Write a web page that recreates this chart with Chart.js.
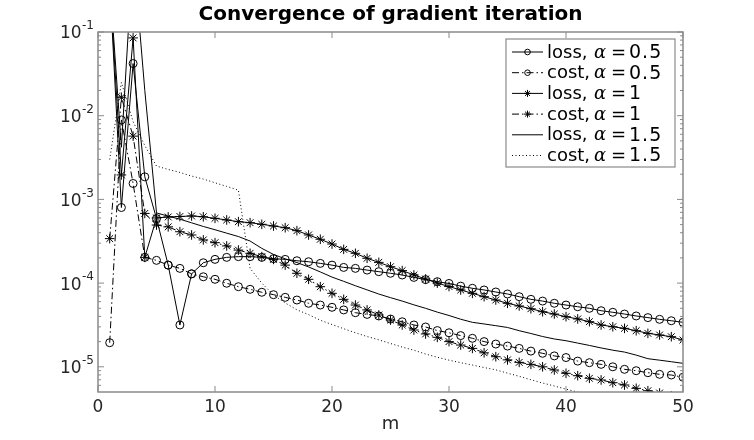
<!DOCTYPE html>
<html lang="en">
<head>
<meta charset="UTF-8" />
<title>Convergence of gradient iteration</title>
<script src="https://cdn.jsdelivr.net/npm/chart.js@4.4.1/dist/chart.umd.min.js"></script>
<style>
  html, body { margin: 0; padding: 0; background: #fff; }
  #wrap { width: 754px; height: 440px; }
</style>
</head>
<body>
<div id="wrap"><canvas id="chartConv" width="754" height="440"></canvas></div>
<script>
  // iteration index
  const iterations = [1, 2, 3, 4, 5, 6, 7, 8, 9, 10, 11, 12, 13, 14, 15, 16, 17, 18, 19, 20,
    21, 22, 23, 24, 25, 26, 27, 28, 29, 30, 31, 32, 33, 34, 35, 36, 37, 38, 39, 40,
    41, 42, 43, 44, 45, 46, 47, 48, 49, 50];

  const lossA05 = [0.4, 8.0e-4, 4.2e-2, 1.86e-3, 5.9e-4, 1.64e-4, 3.16e-5, 1.29e-4, 1.75e-4, 1.92e-4,
    2.03e-4, 2.07e-4, 2.07e-4, 2.03e-4, 1.96e-4, 1.92e-4, 1.85e-4, 1.80e-4, 1.72e-4, 1.64e-4,
    1.54e-4, 1.50e-4, 1.43e-4, 1.37e-4, 1.31e-4, 1.25e-4, 1.17e-4, 1.10e-4, 1.04e-4, 9.9e-5,
    9.2e-5, 8.67e-5, 8.28e-5, 7.83e-5, 7.41e-5, 6.88e-5, 6.40e-5, 6.10e-5, 5.74e-5, 5.47e-5,
    5.22e-5, 5.00e-5, 4.68e-5, 4.48e-5, 4.27e-5, 4.05e-5, 3.87e-5, 3.69e-5, 3.55e-5, 3.40e-5];

  const costA05 = [1.94e-5, 8.9e-3, 1.55e-3, 2.03e-4, 1.87e-4, 1.64e-4, 1.5e-4, 1.29e-4, 1.19e-4, 1.11e-4,
    9.96e-5, 9.06e-5, 8.43e-5, 7.77e-5, 7.27e-5, 6.76e-5, 6.28e-5, 5.74e-5, 5.47e-5, 5.14e-5,
    4.78e-5, 4.43e-5, 4.23e-5, 4.05e-5, 3.72e-5, 3.45e-5, 3.16e-5, 2.99e-5, 2.71e-5, 2.55e-5,
    2.36e-5, 2.19e-5, 2.0e-5, 1.87e-5, 1.77e-5, 1.66e-5, 1.54e-5, 1.45e-5, 1.35e-5, 1.29e-5,
    1.17e-5, 1.12e-5, 1.07e-5, 1.0e-5, 9.33e-6, 8.98e-6, 8.5e-6, 8.13e-6, 7.98e-6, 7.5e-6];

  const lossA1 = [0.4, 1.96e-3, 8.5e-2, 2.03e-4, 6.0e-4, 6.17e-4, 6.25e-4, 6.34e-4, 6.2e-4, 5.94e-4,
    5.68e-4, 5.42e-4, 5.27e-4, 5.04e-4, 4.81e-4, 4.59e-4, 4.23e-4, 3.76e-4, 3.34e-4, 2.93e-4,
    2.53e-4, 2.27e-4, 1.98e-4, 1.77e-4, 1.57e-4, 1.41e-4, 1.25e-4, 1.12e-4, 1.0e-4, 9.1e-5,
    8.27e-5, 7.55e-5, 6.88e-5, 6.28e-5, 5.74e-5, 5.33e-5, 4.94e-5, 4.55e-5, 4.27e-5, 3.97e-5,
    3.73e-5, 3.46e-5, 3.16e-5, 3.01e-5, 2.88e-5, 2.70e-5, 2.51e-5, 2.40e-5, 2.29e-5, 2.09e-5];

  const costA1 = [3.4e-4, 1.66e-2, 5.7e-3, 6.8e-4, 4.94e-4, 4.7e-4, 4.11e-4, 3.76e-4, 3.28e-4, 3.04e-4,
    2.78e-4, 2.48e-4, 2.27e-4, 2.07e-4, 1.92e-4, 1.64e-4, 1.31e-4, 1.11e-4, 9.06e-5, 7.55e-5,
    6.4e-5, 5.47e-5, 4.78e-5, 4.16e-5, 3.62e-5, 3.16e-5, 2.75e-5, 2.47e-5, 2.25e-5, 2.0e-5,
    1.82e-5, 1.66e-5, 1.47e-5, 1.32e-5, 1.21e-5, 1.13e-5, 1.07e-5, 1.0e-5, 9.16e-6, 8.36e-6,
    7.83e-6, 7.29e-6, 6.96e-6, 6.46e-6, 6.06e-6, 5.53e-6, 5.18e-6, 4.86e-6, 4.5e-6, 4.2e-6];

  const lossA15 = [0.4, 4.2e-3, 0.95, 2.0e-2, 6.9e-4, 6.3e-4, 5.8e-4, 5.25e-4, 4.75e-4, 4.34e-4,
    3.95e-4, 3.6e-4, 3.18e-4, 2.6e-4, 2.2e-4, 1.95e-4, 1.76e-4, 1.56e-4, 1.36e-4, 1.18e-4,
    1.05e-4, 9.3e-5, 8.3e-5, 7.4e-5, 6.7e-5, 6.1e-5, 5.5e-5, 5.0e-5, 4.5e-5, 4.1e-5,
    3.7e-5, 3.4e-5, 3.25e-5, 3.1e-5, 2.95e-5, 2.7e-5, 2.5e-5, 2.3e-5, 2.15e-5, 2.05e-5,
    1.92e-5, 1.8e-5, 1.68e-5, 1.58e-5, 1.5e-5, 1.38e-5, 1.25e-5, 1.2e-5, 1.15e-5, 1.1e-5];

  const costA15 = [3.0e-3, 2.5e-2, 8.5e-3, 4.4e-3, 2.5e-3, 2.28e-3, 2.1e-3, 1.9e-3, 1.75e-3, 1.58e-3,
    1.43e-3, 1.29e-3, 1.5e-4, 1.0e-4, 7.2e-5, 5.8e-5, 4.8e-5, 4.2e-5, 3.6e-5, 3.2e-5,
    2.85e-5, 2.55e-5, 2.3e-5, 2.1e-5, 1.9e-5, 1.72e-5, 1.58e-5, 1.42e-5, 1.3e-5, 1.2e-5,
    1.12e-5, 1.05e-5, 9.8e-6, 9.2e-6, 8.4e-6, 7.7e-6, 7.0e-6, 6.4e-6, 5.9e-6, 5.4e-6,
    5.0e-6, 4.6e-6, 4.2e-6, 3.9e-6, 3.6e-6, 3.3e-6, 3.0e-6, 2.8e-6, 2.6e-6, 2.4e-6];

  const seriesNames = ['loss', 'cost', 'loss', 'cost', 'loss', 'cost'];
  const alphaValues = ['0.5', '0.5', '1', '1', '1.5', '1.5'];

  const xTicks = [0, 10, 20, 30, 40, 50];
  const yTicks = [1e-5, 1e-4, 1e-3, 1e-2, 1e-1];
  const yTickExps = ['-5', '-4', '-3', '-2', '-1'];

  const chartTitle = 'Convergence of gradient iteration';

  // look of each series (matlab style: -o, -.o, -*, -.*, -, :)
  const dashDot = [7, 3, 1.5, 3];
  const lineDash = [[], dashDot, [], dashDot, [], [1, 2.5]];
  const markers = ['circle', 'circle', 'star', 'star', null, null];

  const axisGray = '#8a8a8a';
  const textDark = '#262626';
  const fontFam = '"DejaVu Sans", sans-serif';

  const seriesValues = [lossA05, costA05, lossA1, costA1, lossA15, costA15];

  const datasets = seriesValues.map((vals, i) => ({
    label: seriesNames[i] + ', α = ' + alphaValues[i],
    data: iterations.map((m, k) => ({ x: m, y: vals[k] })),
    borderColor: '#000',
    borderWidth: 1,
    borderDash: lineDash[i],
    pointStyle: markers[i] || 'circle',
    pointRadius: markers[i] ? (markers[i] === 'star' ? 4.8 : 4) : 0,
    pointBorderColor: '#000',
    pointBackgroundColor: 'rgba(0,0,0,0)',
    pointBorderWidth: 1,
    tension: 0,
    fill: false
  }));

  function drawMarker(ctx, style, x, y, r) {
    ctx.beginPath();
    if (style === 'circle') {
      ctx.arc(x, y, r, 0, Math.PI * 2);
    } else if (style === 'star') {
      const d = r * Math.SQRT1_2;
      ctx.moveTo(x - r, y); ctx.lineTo(x + r, y);
      ctx.moveTo(x, y - r); ctx.lineTo(x, y + r);
      ctx.moveTo(x - d, y - d); ctx.lineTo(x + d, y + d);
      ctx.moveTo(x - d, y + d); ctx.lineTo(x + d, y - d);
    }
    ctx.stroke();
  }

  // title, box, inward ticks, 10^n labels and the legend
  const axesFrame = {
    id: 'axesFrame',
    afterDatasetsDraw(chart) {
      const { ctx, chartArea: a, scales: { x, y } } = chart;
      ctx.save();

      ctx.fillStyle = '#000';
      ctx.textAlign = 'center';
      ctx.textBaseline = 'middle';
      ctx.font = 'bold 20px ' + fontFam;
      ctx.fillText(chartTitle, (a.left + a.right) / 2, 15);

      ctx.setLineDash([]);
      ctx.strokeStyle = axisGray;
      ctx.lineWidth = 1.5;
      ctx.strokeRect(a.left, a.top, a.right - a.left, a.bottom - a.top);

      ctx.beginPath();
      xTicks.forEach(v => {
        const px = x.getPixelForValue(v);
        ctx.moveTo(px, a.bottom); ctx.lineTo(px, a.bottom - 6);
        ctx.moveTo(px, a.top); ctx.lineTo(px, a.top + 6);
      });
      yTicks.forEach(v => {
        const py = y.getPixelForValue(v);
        ctx.moveTo(a.left, py); ctx.lineTo(a.left + 6, py);
        ctx.moveTo(a.right, py); ctx.lineTo(a.right - 6, py);
      });
      // minor ticks between decades
      [1e-6].concat(yTicks).forEach(dec => {
        for (let j = 2; j <= 9; j++) {
          const v = dec * j;
          if (v < y.min || v > y.max) continue;
          const py = y.getPixelForValue(v);
          ctx.moveTo(a.left, py); ctx.lineTo(a.left + 3, py);
          ctx.moveTo(a.right, py); ctx.lineTo(a.right - 3, py);
        }
      });
      ctx.lineWidth = 1;
      ctx.stroke();

      // y tick labels with superscript exponent
      ctx.fillStyle = textDark;
      ctx.textAlign = 'right';
      yTicks.forEach((v, i) => {
        const py = y.getPixelForValue(v);
        const xr = a.left - 4;
        ctx.font = '12px ' + fontFam;
        const ew = ctx.measureText(yTickExps[i]).width;
        ctx.fillText(yTickExps[i], xr, py - 6);
        ctx.font = '17px ' + fontFam;
        ctx.fillText('10', xr - ew - 0.5, py + 2);
      });

      // legend
      const bw = 169, bh = 128;
      const bx = a.right - 8 - bw, by = a.top + 7;
      ctx.fillStyle = '#fff';
      ctx.fillRect(bx, by, bw, bh);
      ctx.strokeStyle = axisGray;
      ctx.lineWidth = 1.2;
      ctx.strokeRect(bx, by, bw, bh);
      const rowH = 20.7;
      chart.data.datasets.forEach((ds, i) => {
        const ry = by + 13 + i * rowH;
        ctx.strokeStyle = '#000';
        ctx.lineWidth = 1;
        ctx.setLineDash(lineDash[i]);
        ctx.beginPath();
        ctx.moveTo(bx + 6, ry); ctx.lineTo(bx + 37, ry);
        ctx.stroke();
        ctx.setLineDash([]);
        if (markers[i]) drawMarker(ctx, markers[i], bx + 21.5, ry, markers[i] === 'star' ? 3.5 : 2.8);

        const parts = ds.label.split('α');
        ctx.fillStyle = '#000';
        ctx.textAlign = 'left';
        ctx.font = '18px ' + fontFam;
        ctx.fillText(parts[0].trim(), bx + 41, ry + 1);
        ctx.font = 'italic 18px "DejaVu Serif", serif';
        ctx.fillText('α', bx + 88, ry + 1);
        ctx.font = '18px ' + fontFam;
        ctx.fillText('=', bx + 105, ry + 1);
        ctx.font = '19px ' + fontFam;
        ctx.letterSpacing = '1px';
        ctx.fillText(parts[1].replace('=', '').trim(), bx + 123, ry + 1);
        ctx.letterSpacing = '0px';
      });
      ctx.restore();
    }
  };

  new Chart(document.getElementById('chartConv'), {
    type: 'line',
    data: { datasets },
    plugins: [axesFrame],
    options: {
      responsive: false,
      animation: false,
      events: [],
      layout: { padding: { left: 0, right: 71, top: 32, bottom: 0 } },
      plugins: {
        legend: { display: false },
        tooltip: { enabled: false },
        title: { display: false }
      },
      scales: {
        x: {
          type: 'linear',
          min: 0,
          max: 50,
          grid: { display: false, drawTicks: false },
          border: { display: false },
          ticks: { color: textDark, font: { family: fontFam, size: 17 }, padding: 5, maxRotation: 0 },
          title: {
            display: true,
            text: 'm',
            color: textDark,
            font: { family: fontFam, size: 18 },
            padding: { top: 0, bottom: 5 }
          },
          afterBuildTicks: s => { s.ticks = xTicks.map(v => ({ value: v })); },
          afterFit: s => { s.height = 48; }
        },
        y: {
          type: 'logarithmic',
          min: 5e-6,
          max: 0.1,
          grid: { display: false, drawTicks: false },
          border: { display: false },
          ticks: { display: false },
          afterBuildTicks: s => { s.ticks = yTicks.map(v => ({ value: v })); },
          afterFit: s => { s.width = 98; }
        }
      }
    }
  });
</script>
</body>
</html>
